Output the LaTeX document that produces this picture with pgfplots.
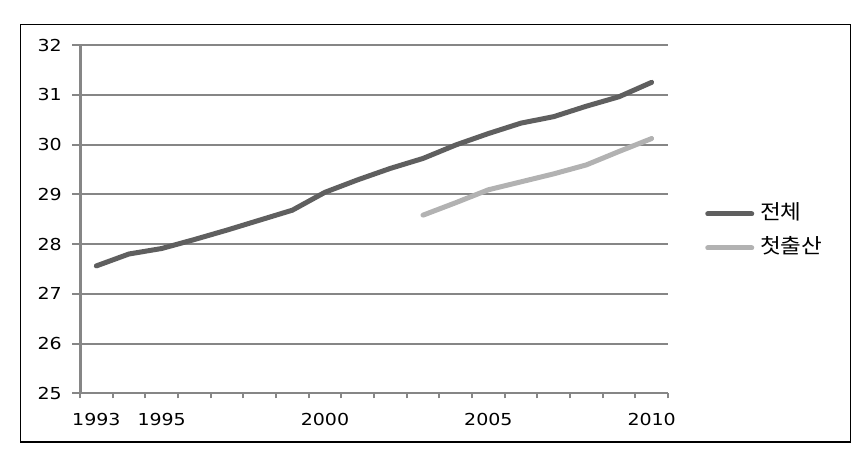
\documentclass[border=0pt]{standalone}
\usepackage{pgfplots}
\pgfplotsset{compat=1.18}
\usepackage{fontspec}
\setmainfont{DejaVu Sans}[FakeStretch=1.15]
\newfontfamily\kr{Noto Sans CJK KR}[FakeStretch=1.1]
\definecolor{gridgray}{HTML}{868686}
\definecolor{darkline}{HTML}{5F5F5F}
\definecolor{lightline}{HTML}{B2B2B2}
\begin{document}
\begin{tikzpicture}
\useasboundingbox (0pt,0pt) rectangle (863pt,452pt);
\draw[black, line width=1.2pt] (20.3pt,10pt) rectangle (850.7pt,427.7pt);
\begin{axis}[
  at={(80pt,58.7pt)}, anchor=south west,
  scale only axis, width=588pt, height=348.3pt,
  xmin=1992.5, xmax=2010.5, ymin=25, ymax=32,
  axis lines*=left,
  axis line style={gridgray, line width=3pt},
  x axis line style={line width=2pt},
  ymajorgrids, grid style={gridgray, line width=2pt},
  ytick={25,...,32},
  xtick={1993,1995,2000,2005,2010},
  minor xtick={1992.5,1993.5,...,2010.5},
  major tick length=8pt, minor tick length=5pt,
  tick align=outside,
  major x tick style={draw=none},
  minor x tick style={gridgray, line width=2pt},
  y tick style={gridgray, line width=2pt},
  xticklabel style={/pgf/number format/1000 sep={}},
  /pgf/number format/assume math mode=true,
  tick label style={font=\fontsize{16.5}{19}\selectfont, inner sep=0pt},
  yticklabel style={anchor=east, xshift=-10pt},
  xticklabel style={anchor=north, yshift=-12pt},
  clip=false,
  legend style={at={(axis description cs:1.063,0.466)}, anchor=west, draw=none, fill=none,
    inner sep=0pt, font=\kr\fontsize{20.5}{23}\selectfont,
    nodes={inner sep=0pt, text height=15pt, text depth=4pt},
    row sep=15pt, column sep=6pt},
  legend cell align=left,
  legend image code/.code={\draw[#1, line width=5pt, line cap=round] (0pt,0pt) -- (44pt,0pt);},
]
\addplot[darkline, line width=5pt, line join=round, line cap=round] coordinates {
(1993,27.56) (1994,27.80) (1995,27.91) (1996,28.09) (1997,28.28) (1998,28.48)
(1999,28.68) (2000,29.04) (2001,29.29) (2002,29.52) (2003,29.72) (2004,29.99)
(2005,30.22) (2006,30.43) (2007,30.56) (2008,30.77) (2009,30.96) (2010,31.25)};
\addlegendentry{전체}
\addplot[lightline, line width=5pt, line join=round, line cap=round] coordinates {
(2003,28.58) (2004,28.83) (2005,29.09) (2006,29.25) (2007,29.41) (2008,29.59)
(2009,29.86) (2010,30.12)};
\addlegendentry{첫출산}
\end{axis}
\end{tikzpicture}
\end{document}
